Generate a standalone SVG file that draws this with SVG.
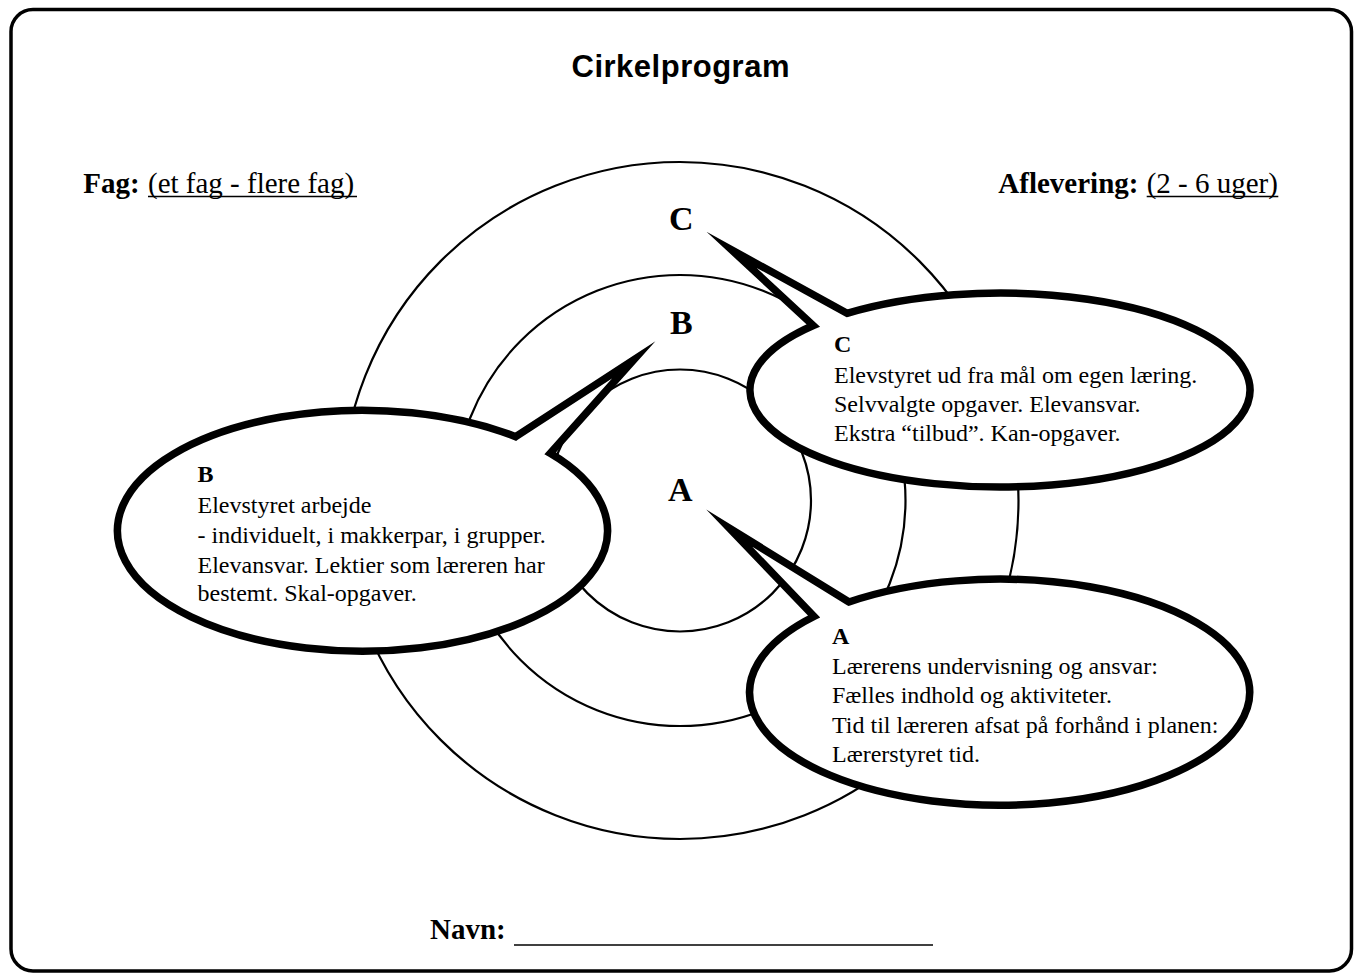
<svg xmlns="http://www.w3.org/2000/svg" width="1355" height="980" viewBox="0 0 1355 980">
<style>
.ring{fill:none;stroke:#000;stroke-width:2.2}
.bubble{fill:#fff;stroke:#000;stroke-width:7.5;stroke-linejoin:miter;stroke-miterlimit:20}
.t{font-family:"Liberation Serif","Times New Roman",serif;fill:#000}
.body{font-size:24px}
.hd{font-size:24px;font-weight:bold}
.big{font-size:34px;font-weight:bold}
.lbl{font-size:29px}
.b{font-weight:bold}
.ul{stroke:#000;stroke-width:1.5}
.title{font-family:"Liberation Sans",Arial,sans-serif;font-size:31px;font-weight:bold}
</style>
<rect x="0" y="0" width="1355" height="980" fill="#fff"/>
<g id="frame">
<rect x="11" y="9.5" width="1340.5" height="961.5" rx="22" fill="#fff" stroke="#000" stroke-width="3.5"/>
</g>
<g id="header">
<text class="title" x="680.5" y="77.3" text-anchor="middle" textLength="218" lengthAdjust="spacing">Cirkelprogram</text>
<text class="t lbl" x="83.3" y="193"><tspan class="b">Fag:</tspan></text>
<text class="t lbl" x="148" y="193">(et fag - flere fag)</text>
<line class="ul" x1="148" y1="196.5" x2="357" y2="196.5"/>
<text class="t lbl" x="998.3" y="193"><tspan class="b">Aflevering:</tspan></text>
<text class="t lbl" x="1146.7" y="193">(2 - 6 uger)</text>
<line class="ul" x1="1146.7" y1="196.5" x2="1278.3" y2="196.5"/>
</g>
<g id="rings">
<circle id="ring-outer" class="ring" cx="680" cy="500.5" r="338.5"/>
<circle id="ring-middle" class="ring" cx="680" cy="500.5" r="225.5"/>
<circle id="ring-inner" class="ring" cx="680" cy="500.5" r="131"/>
</g>
<g id="ring-labels">
<text class="t big" x="669" y="229.5">C</text>
<text class="t big" x="670" y="334">B</text>
<text class="t big" x="668" y="501">A</text>
</g>
<g id="connectors"></g>
<g id="bubble-c">
<path class="bubble" d="M847 313.3 L731.5 249.8 L813.3 325.5 A250 97 0 1 0 847 313.3 Z"/>
<text class="t hd" x="834" y="352">C</text>
<text class="t body" x="834" y="383">Elevstyret ud fra mål om egen læring.</text>
<text class="t body" x="834" y="412">Selvvalgte opgaver. Elevansvar.</text>
<text class="t body" x="834" y="441">Ekstra “tilbud”. Kan-opgaver.</text>
</g>
<g id="bubble-b">
<path class="bubble" d="M515.7 436.7 L633.8 359.8 L550.2 453.3 A245 120.5 0 1 1 515.7 436.7 Z"/>
<text class="t hd" x="197.5" y="482">B</text>
<text class="t body" x="197.5" y="513">Elevstyret arbejde</text>
<text class="t body" x="197.5" y="543">- individuelt, i makkerpar, i grupper.</text>
<text class="t body" x="197.5" y="572.5">Elevansvar. Lektier som læreren har</text>
<text class="t body" x="197.5" y="601">bestemt. Skal-opgaver.</text>
</g>
<g id="bubble-a">
<path class="bubble" d="M849 602 L729.3 528.1 L814 616.5 A250 113 0 1 0 849 602 Z"/>
<text class="t hd" x="832" y="643.5">A</text>
<text class="t body" x="832" y="674">Lærerens undervisning og ansvar:</text>
<text class="t body" x="832" y="703">Fælles indhold og aktiviteter.</text>
<text class="t body" x="832" y="732.5">Tid til læreren afsat på forhånd i planen:</text>
<text class="t body" x="832" y="761.5">Lærerstyret tid.</text>
</g>
<g id="footer">
<text class="t lbl" x="430" y="938.5"><tspan class="b">Navn:</tspan></text>
<line class="ul" x1="514" y1="945" x2="933" y2="945"/>
</g>
</svg>
